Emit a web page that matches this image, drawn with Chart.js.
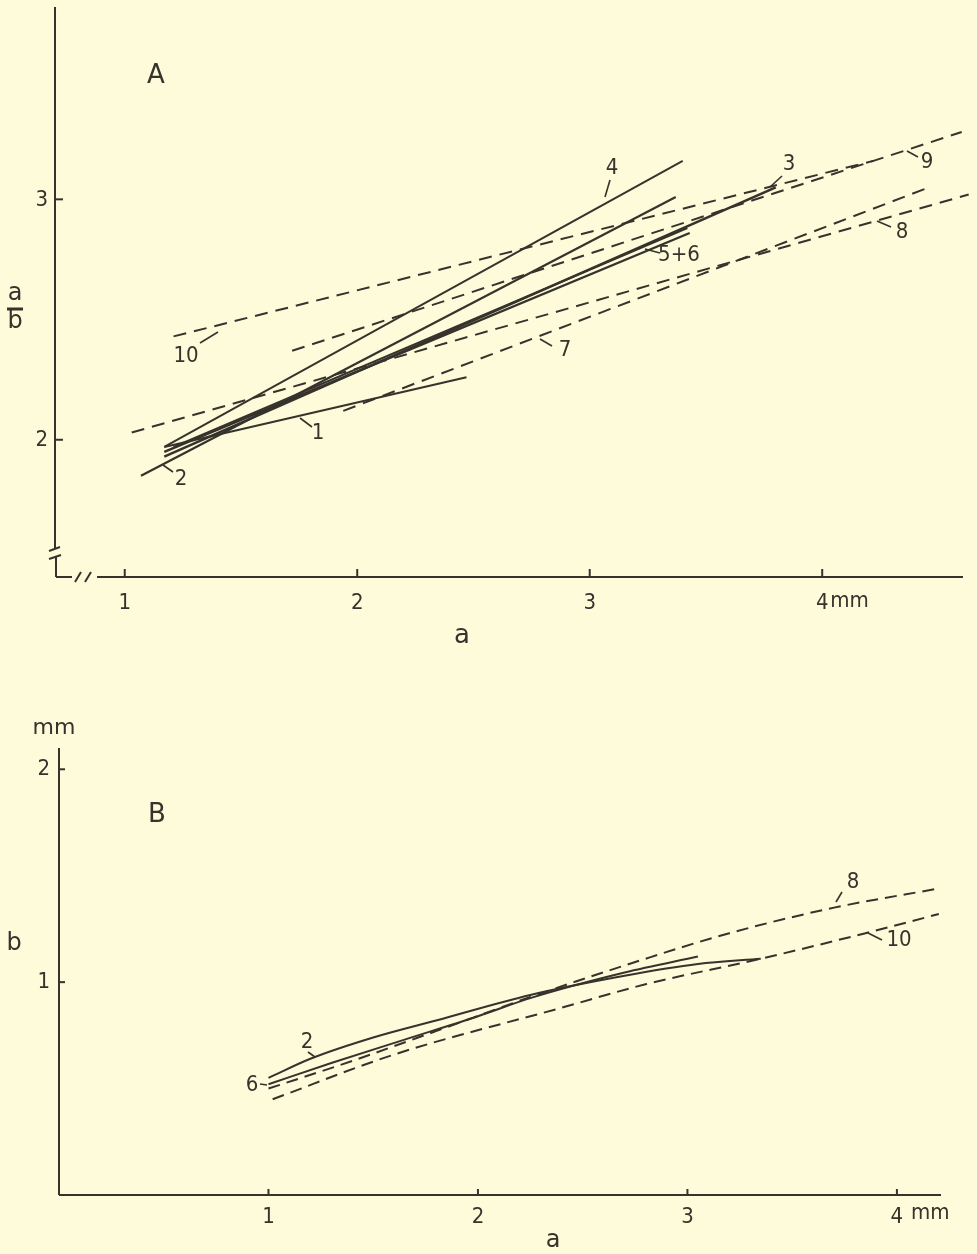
<!DOCTYPE html>
<html>
<head>
<meta charset="utf-8">
<script src="https://cdn.jsdelivr.net/npm/chart.js@4.4.0/dist/chart.umd.min.js"></script>
<style>
  html, body { margin: 0; padding: 0; background: #fdfbda; }
  body { width: 977px; height: 1254px; position: relative; overflow: hidden; }
  #chartA { position: absolute; left: 0; top: 0; }
  #chartB { position: absolute; left: 0; top: 700px; }
</style>
</head>
<body>
<canvas id="chartA" width="977" height="665"></canvas>
<canvas id="chartB" width="977" height="554"></canvas>
<script>
// ---- panel A: a (mm) against a/b, fitted straight lines ----
const ticksA_a = [1, 2, 3, 4];
const ticksA_r = [2, 3];
const line1_a = [1.17, 2.47];  const line1_r = [1.97, 2.26];
const line2_a = [1.07, 3.37];  const line2_r = [1.85, 3.01];
const line3_a = [1.17, 3.80];  const line3_r = [1.93, 3.05];
const line4_a = [1.17, 3.40];  const line4_r = [1.97, 3.16];
const line5_a = [1.21, 3.42];  const line5_r = [1.97, 2.88];
const line6_a = [1.17, 3.43];  const line6_r = [1.95, 2.86];
const line7_a = [1.94, 4.46];  const line7_r = [2.12, 3.05];
const line8_a = [1.03, 4.63];  const line8_r = [2.03, 3.02];
const line9_a = [1.72, 4.60];  const line9_r = [2.37, 3.28];
const line10_a = [1.21, 4.22]; const line10_r = [2.43, 3.16];

// ---- panel B: a (mm) against b (mm) ----
const ticksB_a = [1, 2, 3, 4];
const ticksB_b = [1, 2];
const curve2_a = [1.0, 1.2, 1.5, 1.8, 2.25, 2.7, 3.05, 3.35];
const curve2_b = [0.55, 0.64, 0.74, 0.82, 0.94, 1.03, 1.085, 1.11];
const curve6_a = [1.0, 1.3, 1.65, 2.0, 2.25, 2.7, 3.05];
const curve6_b = [0.52, 0.62, 0.73, 0.84, 0.925, 1.045, 1.12];
const curve8_a = [1.0, 1.4, 1.8, 2.25, 2.8, 3.2, 3.7, 4.2];
const curve8_b = [0.50, 0.63, 0.77, 0.93, 1.11, 1.23, 1.35, 1.44];
const curve10_a = [1.02, 1.6, 2.4, 2.8, 3.35, 3.85, 4.2];
const curve10_b = [0.45, 0.66, 0.88, 0.99, 1.11, 1.23, 1.32];

const ink = '#35332b';
const digitFamily = '"Liberation Sans Narrow", "DejaVu Sans Condensed", sans-serif';
const letterFamily = '"DejaVu Sans", sans-serif';

function pts(xs, ys) {
    return xs.map((x, i) => ({ x: x, y: ys[i] }));
}

function seg(ctx, x1, y1, x2, y2) {
    ctx.beginPath();
    ctx.moveTo(x1, y1);
    ctx.lineTo(x2, y2);
    ctx.stroke();
}

function solid(data, w) {
    return { data: data, borderColor: ink, borderWidth: w || 2, pointRadius: 0, showLine: true, fill: false };
}
function dashed(data, dash) {
    return { data: data, borderColor: ink, borderWidth: 2, borderDash: dash, pointRadius: 0, showLine: true, fill: false };
}

// line tags: text position and a short leader stroke
const tagsA = [
    { t: '1', x: 318, y: 433, l: [300, 418, 312, 427] },
    { t: '2', x: 181, y: 479, l: [163, 465, 173, 472] },
    { t: '10', x: 186, y: 356, l: [200, 343, 218, 332] },
    { t: '4', x: 612, y: 168, l: [605, 197, 610, 180] },
    { t: '5+6', x: 679, y: 255, l: [645, 249, 660, 253] },
    { t: '7', x: 565, y: 350, l: [540, 339, 552, 346] },
    { t: '3', x: 789, y: 164, l: [770, 187, 782, 176] },
    { t: '9', x: 927, y: 162, l: [907, 151, 918, 157] },
    { t: '8', x: 902, y: 232, l: [877, 221, 891, 227] },
];
const tagsB = [
    { t: '2', x: 307, y: 342, l: [308, 352, 315, 357] },
    { t: '6', x: 252, y: 385, l: [260, 384, 267, 385] },
    { t: '8', x: 853, y: 182, l: [842, 192, 836, 202] },
    { t: '10', x: 899, y: 240, l: [868, 233, 882, 240] },
];

function drawTags(ctx, tags) {
    ctx.font = '22px ' + digitFamily;
    ctx.textAlign = 'center';
    ctx.textBaseline = 'middle';
    ctx.lineWidth = 1.6;
    tags.forEach(g => {
        ctx.fillText(g.t, g.x, g.y);
        seg(ctx, g.l[0], g.l[1], g.l[2], g.l[3]);
    });
}

const decorA = {
    id: 'decorA',
    afterDraw(chart) {
        const ctx = chart.ctx, xs = chart.scales.x, ys = chart.scales.y;
        const x0 = chart.chartArea.left, y0 = 577;
        ctx.save();
        ctx.strokeStyle = ink;
        ctx.fillStyle = ink;
        ctx.lineWidth = 2;
        // y axis with break
        seg(ctx, x0, 7, x0, 549);
        seg(ctx, x0 - 6, 551, x0 + 5, 547);
        seg(ctx, x0 - 6, 559, x0 + 6, 555);
        seg(ctx, x0 + 1, 557, x0 + 1, y0);
        // x axis with break
        seg(ctx, x0 + 1, y0, x0 + 17, y0);
        seg(ctx, x0 + 20, y0 + 5, x0 + 26, y0 - 5);
        seg(ctx, x0 + 30, y0 + 5, x0 + 36, y0 - 5);
        seg(ctx, x0 + 42, y0, 963, y0);
        // inward ticks, y tick labels
        ctx.font = '22px ' + digitFamily;
        ctx.textAlign = 'right';
        ctx.textBaseline = 'middle';
        ticksA_r.forEach(v => {
            const y = ys.getPixelForValue(v);
            seg(ctx, x0, y, x0 + 8, y);
            ctx.fillText(String(v), x0 - 7, y + 1);
        });
        ticksA_a.forEach(v => { const x = xs.getPixelForValue(v); seg(ctx, x, y0, x, y0 - 8); });
        // texts
        ctx.textAlign = 'center';
        ctx.font = '26px ' + letterFamily;
        ctx.fillText('A', 156, 76);
        ctx.fillText('a', 462, 636);
        ctx.font = '24px ' + letterFamily;
        ctx.fillText('a', 15, 294);
        ctx.fillText('b', 15, 322);
        ctx.lineWidth = 3;
        seg(ctx, 7, 309, 23, 309);
        ctx.font = '22px ' + digitFamily;
        ctx.textAlign = 'left';
        ctx.fillText('mm', xs.getPixelForValue(4) + 8, 601);
        drawTags(ctx, tagsA);
        ctx.restore();
    }
};

const decorB = {
    id: 'decorB',
    afterDraw(chart) {
        const ctx = chart.ctx, xs = chart.scales.x, ys = chart.scales.y;
        const x0 = chart.chartArea.left, y0 = chart.chartArea.bottom;
        ctx.save();
        ctx.strokeStyle = ink;
        ctx.fillStyle = ink;
        ctx.lineWidth = 2;
        seg(ctx, x0, chart.chartArea.top, x0, y0);
        seg(ctx, x0, y0, 941, y0);
        ticksB_b.forEach(v => { const y = ys.getPixelForValue(v); seg(ctx, x0, y, x0 + 6, y); });
        ticksB_a.forEach(v => { const x = xs.getPixelForValue(v); seg(ctx, x, y0, x, y0 - 6); });
        ctx.textAlign = 'center';
        ctx.textBaseline = 'middle';
        ctx.font = '26px ' + letterFamily;
        ctx.fillText('B', 157, 115);
        ctx.font = '24px ' + letterFamily;
        ctx.fillText('a', 553, 541);
        ctx.fillText('b', 14, 244);
        ctx.font = '22px ' + letterFamily;
        ctx.fillText('mm', 54, 28);
        ctx.font = '22px ' + digitFamily;
        ctx.textAlign = 'left';
        ctx.fillText('mm', xs.getPixelForValue(4) + 14, 513);
        drawTags(ctx, tagsB);
        ctx.restore();
    }
};

function axisOpts(min, max, tickVals, fitKey, fitVal, pad, showLabels) {
    return {
        type: 'linear',
        min: min,
        max: max,
        afterBuildTicks: s => { s.ticks = tickVals.map(v => ({ value: v })); },
        afterFit: s => { s[fitKey] = fitVal; },
        grid: { display: false, drawTicks: false },
        border: { display: false },
        ticks: {
            display: showLabels,
            color: ink,
            padding: pad,
            font: { family: digitFamily, size: 22 },
            callback: v => String(v),
        },
    };
}

const common = {
    responsive: false,
    animation: false,
    events: [],
    plugins: { legend: { display: false }, tooltip: { enabled: false } },
};

new Chart(document.getElementById('chartA').getContext('2d'), {
    type: 'scatter',
    data: {
        datasets: [
            solid(pts(line1_a, line1_r)),
            solid(pts(line2_a, line2_r), 2.2),
            solid(pts(line3_a, line3_r), 2.6),
            solid(pts(line4_a, line4_r)),
            solid(pts(line5_a, line5_r)),
            solid(pts(line6_a, line6_r), 2.4),
            dashed(pts(line7_a, line7_r), [13, 8]),
            dashed(pts(line8_a, line8_r), [13, 8]),
            dashed(pts(line9_a, line9_r), [13, 8]),
            dashed(pts(line10_a, line10_r), [13, 8]),
        ],
    },
    options: Object.assign({}, common, {
        layout: { padding: { top: 7, right: 6, bottom: 0, left: 0 } },
        scales: {
            x: axisOpts(0.70, 4.64, ticksA_a, 'height', 87, 12, true),
            y: axisOpts(1.425, 3.80, ticksA_r, 'width', 55, 8, false),
        },
    }),
    plugins: [decorA],
});

new Chart(document.getElementById('chartB').getContext('2d'), {
    type: 'scatter',
    data: {
        datasets: [
            Object.assign(solid(pts(curve2_a, curve2_b)), { cubicInterpolationMode: 'monotone' }),
            Object.assign(solid(pts(curve6_a, curve6_b)), { cubicInterpolationMode: 'monotone' }),
            Object.assign(dashed(pts(curve8_a, curve8_b), [12, 7]), { cubicInterpolationMode: 'monotone' }),
            Object.assign(dashed(pts(curve10_a, curve10_b), [12, 7]), { cubicInterpolationMode: 'monotone' }),
        ],
    },
    options: Object.assign({}, common, {
        layout: { padding: { top: 48, right: 34, bottom: 0, left: 0 } },
        scales: {
            x: axisOpts(0, 4.22, ticksB_a, 'height', 59, 9, true),
            y: axisOpts(0, 2.10, ticksB_b, 'width', 59, 9, true),
        },
    }),
    plugins: [decorB],
});
</script>
</body>
</html>
